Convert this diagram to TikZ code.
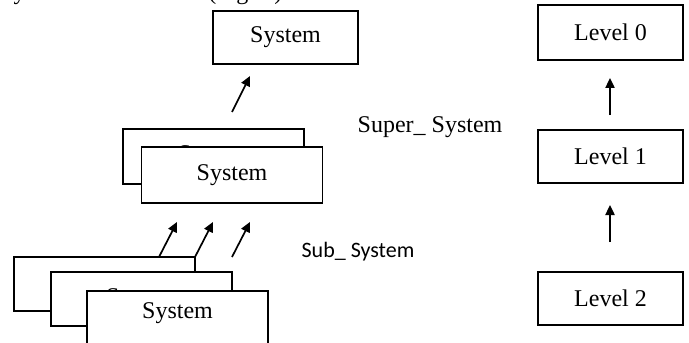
\documentclass[tikz,border=0pt]{standalone}
\usepackage{fontspec}
\setmainfont{Liberation Serif}
\newfontfamily\calib{Carlito}
\usetikzlibrary{arrows.meta}
\begin{document}
\begin{tikzpicture}[x=0.5pt,y=-0.5pt,
  sysbox/.style={draw, line width=0.65pt, fill=white, inner sep=0pt,
    minimum width=90.5pt, minimum height=27.5pt, font=\fontsize{12}{14}\selectfont},
  lvlbox/.style={draw, line width=0.65pt, fill=white, inner sep=0pt,
    minimum width=72.5pt, minimum height=27pt, font=\fontsize{12}{14}\selectfont},
  arr/.style={line width=0.85pt, -{Triangle[length=5pt,width=4.6pt]}}]
\useasboundingbox (0,0) rectangle (689,342);
\clip (0,0) rectangle (689,342);
% cut-off caption line above the figure
\node[anchor=base west, inner sep=0pt, font=\fontsize{12}{14}\selectfont] (cap) at (0,0) {System and its levels (Fig. 1)};
% top system
\node[sysbox, minimum width=72.5pt, minimum height=26.5pt] (top) at (285.5,37.5) {System};
% middle stack
\node[sysbox, minimum height=27.5pt] (mback) at (213.5,156.5) {System};
\node[sysbox, minimum height=28pt] (mfront) at (232,175) {System};
% bottom stack
\node[sysbox, minimum height=27pt] (bback) at (104.5,284) {System};
\node[sysbox, minimum height=27pt] (bmid) at (141.5,299) {System};
\node[sysbox, minimum height=27pt] (bfront) at (177.5,318) {};
\node[font=\fontsize{12}{14}\selectfont, inner sep=0pt] (bftext) at (177.5,313) {System};
% arrows between the stacks
\coordinate (a0s) at (232,112); \coordinate (a0e) at (250,76);
\draw[arr] (a0s) -- (a0e);
\coordinate (a1s) at (159,257); \coordinate (a1e) at (177,222);
\coordinate (a2s) at (195,257); \coordinate (a2e) at (213,222);
\coordinate (a3s) at (232,257); \coordinate (a3e) at (250,222);
\draw[arr] (a1s) -- (a1e);
\draw[arr] (a2s) -- (a2e);
\draw[arr] (a3s) -- (a3e);
% labels
\node[font=\fontsize{12}{14}\selectfont, inner sep=0pt] (super) at (430,127) {Super\_ System};
\node[font=\calib\fontsize{11}{13}\selectfont, inner sep=0pt] (sub) at (358,252) {Sub\_ System};
% levels
\node[lvlbox, minimum height=27.5pt] (l0) at (610.5,32.5) {Level 0};
\node[lvlbox, minimum height=26.5pt] (l1) at (610.5,156.5) {Level 1};
\node[lvlbox, minimum height=26.5pt] (l2) at (610.5,298.5) {Level 2};
\coordinate (b0s) at (610,115); \coordinate (b0e) at (610,78);
\coordinate (b1s) at (610,242); \coordinate (b1e) at (610,205);
\draw[arr] (b0s) -- (b0e);
\draw[arr] (b1s) -- (b1e);
\end{tikzpicture}
\end{document}
